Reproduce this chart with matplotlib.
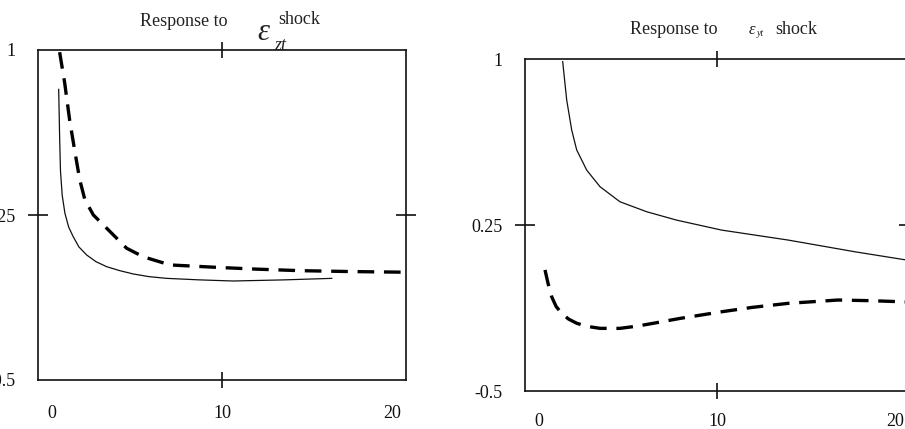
import matplotlib
matplotlib.use("Agg")
import matplotlib.pyplot as plt

plt.rcParams['font.family'] = ['Liberation Serif', 'DejaVu Serif']
plt.rcParams['lines.scale_dashes'] = False

# Left panel: response to epsilon_zt shock
left_solid_x = [0.415, 0.473, 0.52, 0.62, 0.78, 1.0, 1.27, 1.6, 2.06, 2.6, 3.23, 4.0, 4.79, 5.7, 6.75,
                8.71, 10.66, 13.6, 16.44]
left_solid_y = [0.821, 0.591, 0.45, 0.34, 0.258, 0.195, 0.151, 0.105, 0.068, 0.038, 0.015, -0.003, -0.018,
                -0.03, -0.038, -0.045, -0.05, -0.045, -0.038]
left_dash_x = [0.47, 0.767, 1.06, 1.35, 1.65, 1.95, 2.45, 3.23, 4.4, 5.38, 6.95, 9.69, 12.0, 14.58, 17.5, 20.7]
left_dash_y = [0.99, 0.85, 0.68, 0.545, 0.41, 0.32, 0.25, 0.19, 0.099, 0.06, 0.023, 0.012, 0.004, -0.003,
               -0.007, -0.01]

# Right panel: response to epsilon_yt shock
right_solid_x = [1.32, 1.545, 1.827, 2.108, 2.67, 3.42, 4.54, 6.04, 7.73, 10.26, 14.0, 17.76, 20.8]
right_solid_y = [0.988, 0.815, 0.679, 0.589, 0.498, 0.423, 0.355, 0.31, 0.272, 0.227, 0.182, 0.129, 0.09]
right_dash_x = [0.325, 0.50, 0.70, 0.95, 1.26, 1.65, 2.11, 2.7, 3.42, 4.54, 5.5, 6.42, 7.92, 10.26, 12.0,
                14.0, 16.8, 18.7, 20.8]
right_dash_y = [0.047, -0.015, -0.074, -0.118, -0.149, -0.175, -0.194, -0.208, -0.217, -0.217, -0.207,
                -0.194, -0.172, -0.142, -0.122, -0.104, -0.089, -0.092, -0.098]

x_ticks = [0, 10, 20]
x_ticklabels = ['0', '10', '20']
y_ticks = [-0.5, 0.25, 1]
y_ticklabels = ['-0.5', '0.25', '1']

W, H = 905, 429
fig = plt.figure(figsize=(W / 100, H / 100), dpi=100)


def make_ax(l, t, r, b):
    return fig.add_axes([l / W, 1 - b / H, (r - l) / W, (b - t) / H])


def style(ax, xpad):
    ax.set_xlim(-0.8, 20.8)
    ax.set_ylim(-0.5, 1)
    for s in ax.spines.values():
        s.set_linewidth(1.2)
        s.set_color('#111111')
    ax.set_xticks(x_ticks)
    ax.set_xticklabels(x_ticklabels)
    ax.set_yticks(y_ticks)
    ax.set_yticklabels(y_ticklabels)
    ax.tick_params(axis='x', direction='inout', length=12, width=1.2, top=True,
                   labelsize=13, pad=xpad, colors='#111111')
    ax.tick_params(axis='y', direction='inout', length=14, width=1.2, right=True,
                   labelsize=13, pad=9, colors='#111111')
    for i, t in enumerate(ax.xaxis.get_major_ticks()):
        if x_ticks[i] != 10:
            t.tick1line.set_visible(False)
            t.tick2line.set_visible(False)
    for i, t in enumerate(ax.yaxis.get_major_ticks()):
        if y_ticks[i] != 0.25:
            t.tick1line.set_visible(False)
            t.tick2line.set_visible(False)


axL = make_ax(38, 50, 406, 380)
style(axL, 12)
axL.plot(left_solid_x, left_solid_y, color='#111111', lw=0.9)
ld, = axL.plot(left_dash_x, left_dash_y, color='black', lw=2.4)
ld.set_dashes([12, 7])

axR = make_ax(525, 59, 909, 391)
style(axR, 10)
axR.plot(right_solid_x, right_solid_y, color='#111111', lw=0.9)
rd, = axR.plot(right_dash_x, right_dash_y, color='black', lw=2.4)
rd.set_dashes([12, 7])


def ftext(x, y, s, **kw):
    fig.text(x / W, 1 - y / H, s, va='center', color='#222222', **kw)


# Left title
ftext(184, 21, 'Response to', ha='center', fontsize=13)
ftext(263, 32, 'ε', ha='center', fontsize=22, style='italic')
ftext(280, 46, 'zt', ha='center', fontsize=13, style='italic')
ftext(299, 20, 'shock', ha='center', fontsize=13)

# Right title
ftext(674, 30, 'Response to', ha='center', fontsize=13)
ftext(752, 30, 'ε', ha='center', fontsize=12, style='italic')
ftext(760, 34, 'yt', ha='center', fontsize=7, style='italic')
ftext(796, 30, 'shock', ha='center', fontsize=13)

fig.savefig('out.png', dpi=100)
